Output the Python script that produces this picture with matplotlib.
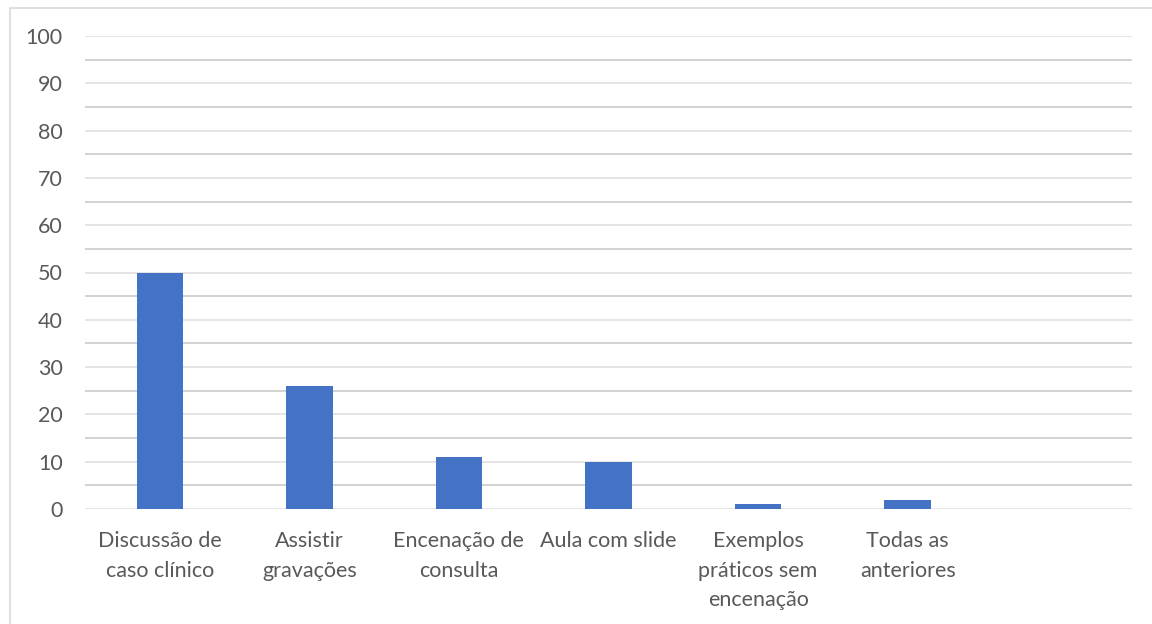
import matplotlib.pyplot as plt
from matplotlib.patches import Rectangle

# Dados do gráfico
categorias = ["Discussão de\ncaso clínico", "Assistir\ngravações", "Encenação de\nconsulta",
              "Aula com slide", "Exemplos\npráticos sem\nencenação", "Todas as\nanteriores", ""]
valores = [50, 26, 11, 10, 1, 2, 0]
yticks = list(range(0, 101, 10))

plt.rcParams["font.family"] = ["Lato", "DejaVu Sans"]

fig = plt.figure(figsize=(11.52, 6.24), dpi=100)
ax = fig.add_axes([85 / 1152, 1 - 509 / 624, (1132 - 85) / 1152, (509 - 36) / 624])

# moldura externa do gráfico
fig.patches.append(Rectangle((10 / 1152, -0.05), 1.2, 1 - 8 / 624 + 0.05, transform=fig.transFigure,
                             fill=False, edgecolor="#d9d9d9", linewidth=1.2))

x = range(len(categorias))
ax.bar(x, valores, width=0.31, color="#4472C4", zorder=3)

ax.set_xlim(-0.5, len(categorias) - 0.5)
ax.set_ylim(0, 100)
ax.set_yticks(yticks)
ax.set_yticks(range(5, 100, 10), minor=True)
ax.grid(axis="y", which="major", color="#e3e3e3", linewidth=1.3, zorder=0)
ax.grid(axis="y", which="minor", color="#cfcfcf", linewidth=1.3, zorder=0)
ax.set_xticks(list(x))
ax.set_xticklabels(categorias, fontsize=15.5, color="#595959", linespacing=1.6)
ax.tick_params(axis="y", which="both", length=0, labelsize=15.5, labelcolor="#595959", pad=16)
ax.tick_params(axis="x", length=0, pad=16)
for s in ax.spines.values():
    s.set_visible(False)

fig.savefig("out.png", dpi=100)
